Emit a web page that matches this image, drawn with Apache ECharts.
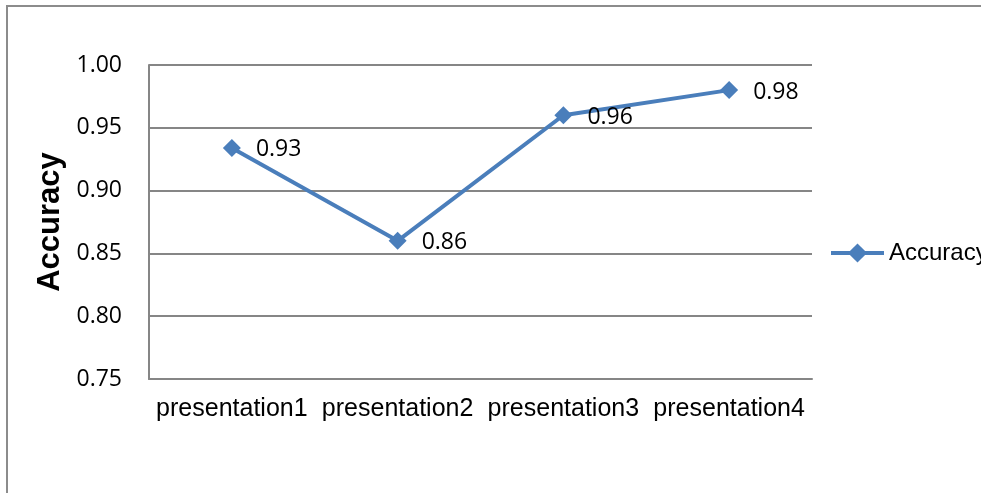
<!DOCTYPE html>
<html>
<head>
<meta charset="utf-8">
<script src="https://cdn.jsdelivr.net/npm/echarts@6/dist/echarts.min.js"></script>
<style>
  html, body { margin: 0; padding: 0; background: #fff; }
  #main { width: 981px; height: 493px; }
</style>
</head>
<body>
<div id="main"></div>
<script>
  // categories and values
  var categories = ['presentation1', 'presentation2', 'presentation3', 'presentation4'];
  var accuracy = [0.934, 0.86, 0.96, 0.98];
  var seriesName = 'Accuracy';

  var myChart = echarts.init(document.getElementById('main'));

  myChart.setOption({
    animation: false,
    backgroundColor: '#fff',
    graphic: [{
      type: 'rect',
      shape: { x: 7, y: 6, width: 1200, height: 700 },
      style: { fill: 'none', stroke: '#8c8c8c', lineWidth: 2 }
    }],
    grid: { left: 149, top: 65, width: 663, height: 314 },
    legend: {
      data: [seriesName],
      left: 829,
      top: 241,
      padding: 0,
      itemWidth: 53,
      itemHeight: 24,
      lineStyle: { width: 4 },
      textStyle: { fontFamily: 'Liberation Sans', fontSize: 24, color: '#000' }
    },
    xAxis: {
      type: 'category',
      data: categories,
      boundaryGap: true,
      axisLine: { lineStyle: { color: '#868686', width: 2 } },
      axisTick: { show: false },
      axisLabel: {
        margin: 18,
        fontFamily: 'Liberation Sans',
        fontSize: 25,
        color: '#000',
        interval: 0
      }
    },
    yAxis: {
      type: 'value',
      min: 0.75,
      max: 1.0,
      interval: 0.05,
      name: 'Accuracy',
      nameLocation: 'middle',
      nameGap: 80,
      nameTextStyle: { fontFamily: 'Liberation Sans', fontWeight: 'bold', fontSize: 31, color: '#000' },
      axisLine: { show: true, lineStyle: { color: '#868686', width: 2 } },
      axisTick: { show: false },
      splitLine: { lineStyle: { color: '#868686', width: 2 } },
      axisLabel: {
        margin: 27,
        fontFamily: 'Open Sans',
        fontSize: 23,
        color: '#000',
        formatter: function (v) { return v.toFixed(2); }
      }
    },
    series: [{
      name: seriesName,
      type: 'line',
      data: accuracy,
      symbol: 'diamond',
      symbolSize: 18,
      lineStyle: { color: '#4a7ebb', width: 4 },
      itemStyle: { color: '#4a7ebb' },
      label: {
        show: true,
        position: 'right',
        distance: 15,
        offset: [0, 2],
        fontFamily: 'Open Sans',
        fontSize: 23,
        color: '#000',
        formatter: function (p) { return p.value.toFixed(2); }
      }
    }]
  });
</script>
</body>
</html>
